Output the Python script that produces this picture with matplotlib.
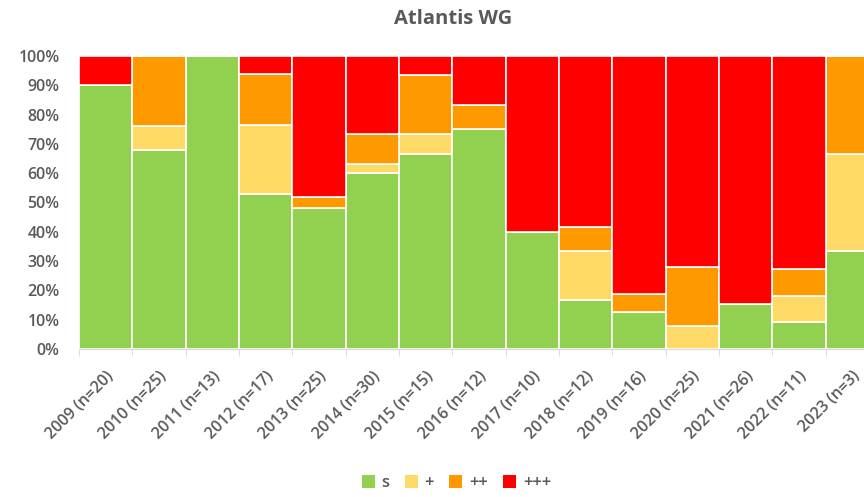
#!/usr/bin/env python
"""Stacked 100% bar chart of Atlantis WG scores per year."""

import matplotlib

matplotlib.use("Agg")
import matplotlib.pyplot as plt
import numpy as np
from matplotlib.patches import Patch
from matplotlib.ticker import FixedLocator, PercentFormatter

years = ["2009 (n=20)", "2010 (n=25)", "2011 (n=13)", "2012 (n=17)",
         "2013 (n=25)", "2014 (n=30)", "2015 (n=15)", "2016 (n=12)",
         "2017 (n=10)", "2018 (n=12)", "2019 (n=16)", "2020 (n=25)",
         "2021 (n=26)", "2022 (n=11)", "2023 (n=3)"]
series = ["s", "+", "++", "+++"]

# percentages per class
s_vals = [90, 68, 100, 52.9, 48, 60, 66.7, 75, 40, 16.7, 12.5, 0, 15.4, 9.1, 33.3]
p1_vals = [0, 8, 0, 23.5, 0, 3.3, 6.7, 0, 0, 16.7, 0, 8, 0, 9.1, 33.3]
p2_vals = [0, 24, 0, 17.6, 4, 10, 20, 8.3, 0, 8.3, 6.25, 20, 0, 9.1, 33.4]
p3_vals = [10, 0, 0, 5.9, 48, 26.7, 6.7, 16.7, 60, 58.3, 81.25, 72, 84.6, 72.7, 0]

colors = ["#92D050", "#FFD966", "#FF9900", "#FF0000"]
TEXT = "#595959"
FONT = ["Open Sans", "DejaVu Sans"]

fig = plt.figure(figsize=(8.64, 4.97), dpi=100)
# the last bar runs past the right edge, as in the original
ax = fig.add_axes([79 / 864, 148 / 497, 800 / 864, 293 / 497])

x = np.arange(len(years))
bottom = np.zeros(len(years))
for vals, color in zip([s_vals, p1_vals, p2_vals, p3_vals], colors):
    ax.bar(x, vals, bottom=bottom, width=1.0, color=color,
           edgecolor="white", linewidth=1.2, zorder=3)
    bottom += np.array(vals)

ax.set_xlim(-0.5, len(years) - 0.5)
ax.set_ylim(0, 100)
ax.set_yticks(np.arange(0, 101, 10))
ax.yaxis.set_major_formatter(PercentFormatter(decimals=0))
ax.grid(axis="y", color="#D9D9D9", linewidth=0.8, zorder=0)

ax.set_xticks(x)
ax.set_xticklabels(years, rotation=45, ha="right", rotation_mode="anchor",
                   fontsize=11.5, color=TEXT, family=FONT, fontweight="semibold")
ax.xaxis.set_minor_locator(FixedLocator(np.arange(-0.5, len(years), 1)))
ax.tick_params(axis="x", which="major", length=0, pad=14)
ax.tick_params(axis="x", which="minor", length=5, color="#D9D9D9")
ax.tick_params(axis="y", length=0, pad=14, labelsize=11.5, labelcolor=TEXT)
for label in ax.get_yticklabels():
    label.set_family(FONT)
    label.set_fontweight("semibold")

for side in ["top", "right", "left"]:
    ax.spines[side].set_visible(False)
ax.spines["bottom"].set_color("#D9D9D9")

fig.text(0.525, 0.962, "Atlantis WG", ha="center", va="center", fontsize=14.5,
         fontweight="bold", color=TEXT, family=FONT)

handles = [Patch(facecolor=c, edgecolor="none") for c in colors]
fig.legend(handles, series, loc="center", bbox_to_anchor=(0.528, 0.028),
           ncol=4, frameon=False, handlelength=0.8, handleheight=0.8,
           handletextpad=0.4, columnspacing=0.9,
           prop={"family": FONT, "size": 12, "weight": "semibold"},
           labelcolor=TEXT)

fig.savefig("out.png", dpi=100)
